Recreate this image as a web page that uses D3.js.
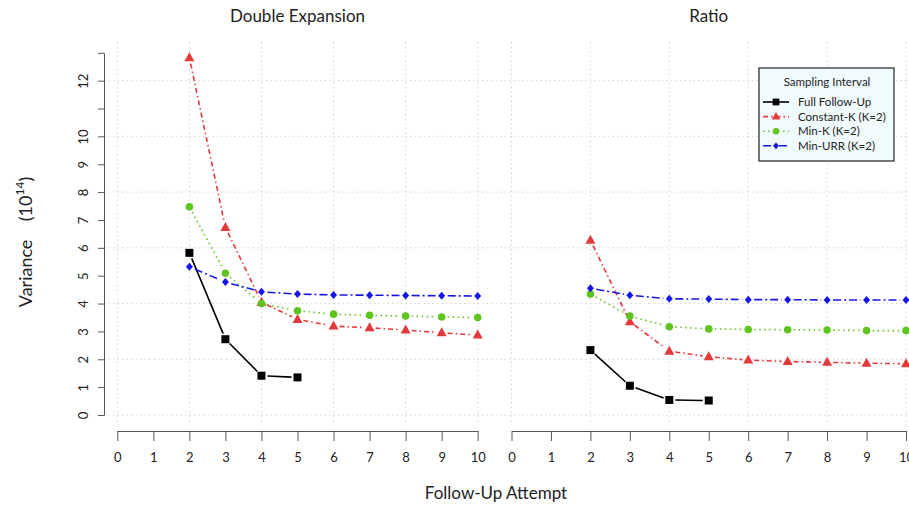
<!DOCTYPE html>
<html><head><meta charset="utf-8">
<script src="https://cdn.jsdelivr.net/npm/d3@7"></script>
<style>body{margin:0;background:#fff}svg{display:block}text{font-family:Lato,"Open Sans",sans-serif;fill:#222}</style>
</head><body><svg id="c" width="909" height="508"></svg>
<script>
const attempts = [2,3,4,5,6,7,8,9,10];
const seriesNames = ["Full Follow-Up","Constant-K (K=2)","Min-K (K=2)","Min-URR (K=2)"];
// Double Expansion panel
const deFull  = [5.82, 2.72, 1.41, 1.35];
const deConst = [12.82, 6.73, 4.05, 3.43, 3.19, 3.13, 3.05, 2.95, 2.87];
const deMinK  = [7.47, 5.09, 4.00, 3.74, 3.62, 3.58, 3.55, 3.52, 3.50];
const deURR   = [5.32, 4.77, 4.42, 4.34, 4.31, 4.30, 4.29, 4.28, 4.27];
// Ratio panel
const raFull  = [2.33, 1.05, 0.54, 0.52];
const raConst = [6.27, 3.35, 2.29, 2.09, 1.97, 1.92, 1.89, 1.86, 1.84];
const raMinK  = [4.34, 3.55, 3.17, 3.09, 3.07, 3.06, 3.05, 3.03, 3.03];
const raURR   = [4.55, 4.30, 4.17, 4.16, 4.14, 4.14, 4.13, 4.13, 4.13];
const xTicks = [0,1,2,3,4,5,6,7,8,9,10];
const yTicks = [0,1,2,3,4,5,6,7,8,9,10,11,12,13];
const yTickLabels = ["0","1","2","3","4","5","6","7","8","9","10","","12",""];
const panelTitles = ["Double Expansion","Ratio"];

const svg = d3.select("#c");
const y = d3.scaleLinear().domain([0,13]).range([415,52.8]);
const xL = d3.scaleLinear().domain([0,10]).range([117.3,477.7]);
const xR = d3.scaleLinear().domain([0,10]).range([511.5,906]);

const styles = [
  {color:"#000000", dash:null, shape:"square"},
  {color:"#e2393b", dash:"5,3,1.5,3", shape:"triangle"},
  {color:"#5fc41f", dash:"1.5,3.5", shape:"circle"},
  {color:"#1616e6", dash:"8,3,2,3", shape:"diamond"}
];
function drawMarker(g, shape, color, cx, cy, scale){
  scale = scale||1;
  if(shape==="square") g.append("rect").attr("x",cx-4*scale).attr("y",cy-4*scale).attr("width",8*scale).attr("height",8*scale).attr("fill",color);
  else if(shape==="triangle") g.append("path").attr("d",`M${cx},${cy-5.5*scale}L${cx+5*scale},${cy+3.5*scale}L${cx-5*scale},${cy+3.5*scale}Z`).attr("fill",color);
  else if(shape==="circle") g.append("circle").attr("cx",cx).attr("cy",cy).attr("r",3.8*scale).attr("fill",color);
  else g.append("path").attr("d",`M${cx},${cy-4*scale}L${cx+3.5*scale},${cy}L${cx},${cy+4*scale}L${cx-3.5*scale},${cy}Z`).attr("fill",color);
}

// grid
const grid = svg.append("g").attr("stroke","#d4d4d4").attr("stroke-dasharray","1.5,3").attr("stroke-width",1);
[0,2,4,6,8,10,12].forEach(v=>grid.append("line").attr("x1",104).attr("x2",909).attr("y1",y(v)).attr("y2",y(v)));
[xL,xR].forEach(x=>[0,2,4,6,8,10].forEach(v=>grid.append("line").attr("x1",x(v)).attr("x2",x(v)).attr("y1",42).attr("y2",425)));

// y axis
const ya = svg.append("g").attr("transform","translate(104,0)")
  .call(d3.axisLeft(y).tickValues(yTicks).tickFormat((d,i)=>yTickLabels[i]).tickSize(6).tickSizeOuter(0));
ya.select(".domain").attr("stroke","#555");
ya.selectAll(".tick line").attr("stroke","#555");
ya.selectAll(".tick text").attr("font-size",13).attr("fill","#333").attr("font-family","Lato, sans-serif")
  .attr("transform",function(d){return `rotate(-90,${-16},${y(d)-y(d)})`;})
  .attr("x",0).attr("dy",0).attr("text-anchor","middle")
  .each(function(d){d3.select(this).attr("transform",`translate(-20,0) rotate(-90)`).attr("y",4);});

// x axes
[xL,xR].forEach(x=>{
  const xa = svg.append("g").attr("transform","translate(0,431)")
    .call(d3.axisBottom(x).tickValues(xTicks).tickFormat(d3.format("d")).tickSize(10).tickSizeOuter(0));
  xa.select(".domain").attr("stroke","#555");
  xa.selectAll(".tick line").attr("stroke","#555");
  xa.selectAll(".tick text").attr("font-size",13).attr("fill","#333").attr("font-family","Lato, sans-serif").attr("y",22);
});

// titles
svg.append("text").attr("x",(xL(0)+xL(10))/2).attr("y",22).attr("text-anchor","middle").attr("font-size",17).text(panelTitles[0]);
svg.append("text").attr("x",(xR(0)+xR(10))/2).attr("y",22).attr("text-anchor","middle").attr("font-size",17).text(panelTitles[1]);
svg.append("text").attr("x",496).attr("y",499).attr("text-anchor","middle").attr("font-size",17).text("Follow-Up Attempt");
const yl = svg.append("text").attr("transform","translate(32,242) rotate(-90)").attr("text-anchor","middle").attr("font-size",18);
yl.append("tspan").text("Variance\u00a0\u00a0\u00a0\u00a0(10");
yl.append("tspan").attr("font-size",12).attr("dy",-8).text("14");
yl.append("tspan").attr("dy",8).text(")");

// series
function drawPanel(x, data){
  data.forEach((vals,si)=>{
    const st = styles[si];
    const pts = vals.map((v,i)=>[x(attempts[i]), y(v)]);
    const g = svg.append("g");
    const gap = 6;
    for(let i=0;i<pts.length-1;i++){
      const [x1,y1]=pts[i],[x2,y2]=pts[i+1];
      const dx=x2-x1, dy=y2-y1, len=Math.hypot(dx,dy);
      if(len<=2*gap) continue;
      const ux=dx/len, uy=dy/len;
      g.append("line").attr("x1",x1+ux*gap).attr("y1",y1+uy*gap).attr("x2",x2-ux*gap).attr("y2",y2-uy*gap)
        .attr("stroke",st.color).attr("stroke-width",1.6).attr("stroke-dasharray",st.dash);
    }
    pts.forEach(p=>drawMarker(g, st.shape, st.color, p[0], p[1]));
  });
}
drawPanel(xL, [deFull, deConst, deMinK, deURR]);
drawPanel(xR, [raFull, raConst, raMinK, raURR]);

// legend
const lg = svg.append("g");
lg.append("rect").attr("x",759).attr("y",68).attr("width",135).attr("height",93).attr("fill","#f0fbfd").attr("stroke","#333").attr("stroke-width",1.3);
lg.append("text").attr("x",827).attr("y",86).attr("text-anchor","middle").attr("font-size",11.5).text("Sampling Interval");
seriesNames.forEach((n,i)=>{
  const yy = 102 + i*14.6;
  const st = styles[i];
  lg.append("line").attr("x1",763).attr("x2",789).attr("y1",yy).attr("y2",yy).attr("stroke",st.color).attr("stroke-width",1.6).attr("stroke-dasharray",st.dash);
  drawMarker(lg, st.shape, st.color, 776, yy, 0.85);
  lg.append("text").attr("x",798).attr("y",yy+4).attr("font-size",11.5).text(n);
});
</script></body></html>
